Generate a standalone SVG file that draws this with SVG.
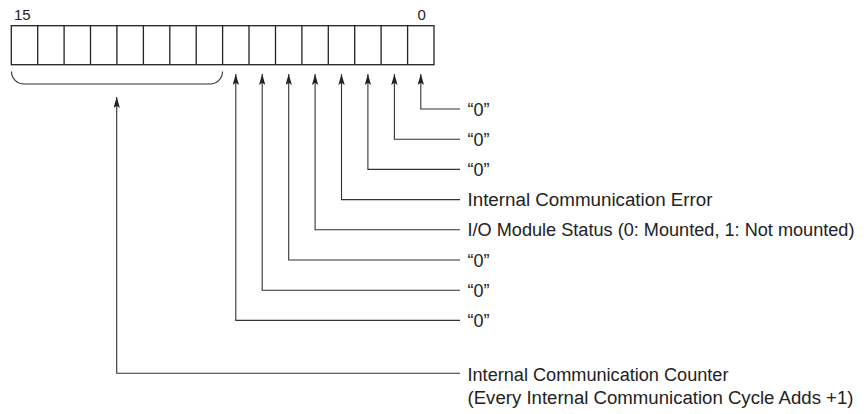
<svg xmlns="http://www.w3.org/2000/svg" width="866" height="414" viewBox="0 0 866 414">
  <style>
    .t { font-family: "Liberation Sans", Arial, Helvetica, sans-serif; font-size: 18px; fill: #222; }
    .bitno { font-family: "Liberation Sans", Arial, Helvetica, sans-serif; font-size: 15px; fill: #222; }
    .cell { fill: #fff; stroke: #222; stroke-width: 1.3; }
    .conn { fill: none; stroke: #333; stroke-width: 1.1; marker-end: url(#arr); }
    .brace { fill: none; stroke: #333; stroke-width: 1.1; }
  </style>
  <defs>
    <marker id="arr" markerUnits="userSpaceOnUse" viewBox="0 -3.2 11 6.4" refX="11" refY="0" markerWidth="11" markerHeight="6.4" orient="auto">
      <path d="M0,-3.2 L11,0 L0,3.2 L2.2,0 Z" fill="#222"/>
    </marker>
  </defs>
  <rect width="866" height="414" fill="#fff"/>

  <g id="register">
    <text class="bitno" x="14" y="20">15</text>
    <text class="bitno" x="417.5" y="20">0</text>
    <rect class="cell" x="11.3" y="25.7" width="422.7" height="39"/>
    <path class="cell" fill="none" d="M37.7,25.7V64.7 M64.1,25.7V64.7 M90.5,25.7V64.7 M116.9,25.7V64.7 M143.4,25.7V64.7 M169.8,25.7V64.7 M196.2,25.7V64.7 M222.6,25.7V64.7 M249.0,25.7V64.7 M275.5,25.7V64.7 M301.9,25.7V64.7 M328.3,25.7V64.7 M354.7,25.7V64.7 M381.1,25.7V64.7 M407.6,25.7V64.7"/>
  </g>

  <g id="brace-15-8">
    <path class="brace" d="M11.5,71.5 A12.5,12.5 0 0 0 24,84 H210 A12.5,12.5 0 0 0 222.5,71.5"/>
  </g>

  <g id="connectors">
    <polyline class="conn" points="460,109 420.8,109 420.8,74"/>
    <polyline class="conn" points="460,139.2 394.4,139.2 394.4,74"/>
    <polyline class="conn" points="460,169.4 367.9,169.4 367.9,74"/>
    <polyline class="conn" points="460,199.6 341.5,199.6 341.5,74"/>
    <polyline class="conn" points="460,229.8 315.1,229.8 315.1,74"/>
    <polyline class="conn" points="460,260 288.7,260 288.7,74"/>
    <polyline class="conn" points="460,290.2 262.2,290.2 262.2,74"/>
    <polyline class="conn" points="460,320.4 235.8,320.4 235.8,74"/>
    <polyline class="conn" points="460,373.3 116.7,373.3 116.7,97"/>
  </g>

  <g id="label-bit0"><text class="t" x="467.5" y="115.5">“0”</text></g>
  <g id="label-bit1"><text class="t" x="467.5" y="145.7">“0”</text></g>
  <g id="label-bit2"><text class="t" x="467.5" y="175.9">“0”</text></g>
  <g id="label-bit3"><text class="t" x="467.5" y="206.1" textLength="245" lengthAdjust="spacingAndGlyphs">Internal Communication Error</text></g>
  <g id="label-bit4"><text class="t" x="467.5" y="236.3" textLength="387" lengthAdjust="spacingAndGlyphs">I/O Module Status (0: Mounted, 1: Not mounted)</text></g>
  <g id="label-bit5"><text class="t" x="467.5" y="266.5">“0”</text></g>
  <g id="label-bit6"><text class="t" x="467.5" y="296.7">“0”</text></g>
  <g id="label-bit7"><text class="t" x="467.5" y="326.9">“0”</text></g>
  <g id="label-counter">
    <text class="t" x="467.5" y="380.5" textLength="261" lengthAdjust="spacingAndGlyphs">Internal Communication Counter</text>
    <text class="t" x="467.5" y="403.5" textLength="386" lengthAdjust="spacingAndGlyphs">(Every Internal Communication Cycle Adds +1)</text>
  </g>
</svg>
